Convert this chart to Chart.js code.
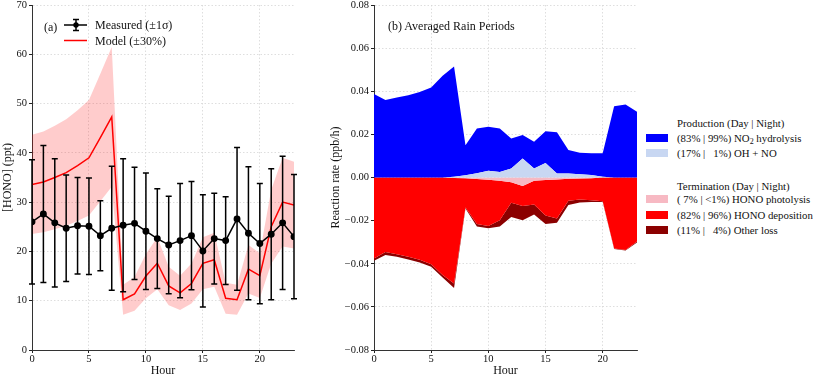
<!DOCTYPE html>
<html>
<head>
<meta charset="utf-8" />
<title>HONO measured vs model, rain periods budget</title>
<script src="https://cdn.jsdelivr.net/npm/chart.js"></script>
<style>
  body { margin: 0; background: #fff; }
  #wrap { position: relative; width: 813px; height: 377px; font-family: "Liberation Serif", "Times New Roman", serif; color: #111; }
  canvas { position: absolute; top: 0; }
  .t { position: absolute; white-space: pre; line-height: 14px; }
  .patch { position: absolute; width: 22px; height: 8px; }
  sub { font-size: 8px; vertical-align: -2px; line-height: 0; }
</style>
</head>
<body>
<div id="wrap">
  <canvas id="left" width="300" height="377" style="left:0"></canvas>
  <canvas id="right" width="325" height="377" style="left:320px"></canvas>

  <!-- legend (a) -->
  <div class="t" style="left:44px;top:20px;font-size:12px">(a)</div>
  <svg style="position:absolute;left:64px;top:17px" width="25" height="28">
    <line x1="0" y1="8" x2="23" y2="8" stroke="#000" stroke-width="1.5"/>
    <line x1="12" y1="2.5" x2="12" y2="13.5" stroke="#000" stroke-width="1.5"/>
    <line x1="9" y1="2.5" x2="15" y2="2.5" stroke="#000" stroke-width="1.5"/>
    <line x1="9" y1="13.5" x2="15" y2="13.5" stroke="#000" stroke-width="1.5"/>
    <circle cx="12" cy="8" r="2.7" fill="#000"/>
    <line x1="0" y1="23.5" x2="23" y2="23.5" stroke="#ff0000" stroke-width="1.5"/>
  </svg>
  <div class="t" style="left:95px;top:18px;font-size:12px">Measured (±1σ)</div>
  <div class="t" style="left:95px;top:34px;font-size:12px">Model (±30%)</div>

  <!-- panel (b) -->
  <div class="t" style="left:388px;top:19px;font-size:12px">(b) Averaged Rain Periods</div>

  <div class="t" style="left:677px;top:116px;font-size:10.8px">Production (Day | Night)</div>
  <div class="patch" style="left:646px;top:134px;background:#0000ff"></div>
  <div class="t" style="left:677px;top:131px;font-size:10.8px">(83% | 99%) NO<sub>2</sub> hydrolysis</div>
  <div class="patch" style="left:646px;top:149px;background:#c8d7f2"></div>
  <div class="t" style="left:677px;top:146px;font-size:10.8px">(17% |   1%) OH + NO</div>

  <div class="t" style="left:677px;top:179px;font-size:10.8px">Termination (Day | Night)</div>
  <div class="patch" style="left:646px;top:195px;background:#f7b9c3"></div>
  <div class="t" style="left:677px;top:192px;font-size:10.8px">( 7% | &lt;1%) HONO photolysis</div>
  <div class="patch" style="left:646px;top:211px;background:#ff0000"></div>
  <div class="t" style="left:677px;top:208px;font-size:10.8px">(82% | 96%) HONO deposition</div>
  <div class="patch" style="left:646px;top:226px;background:#8b0000"></div>
  <div class="t" style="left:677px;top:223px;font-size:10.8px">(11% |   4%) Other loss</div>
</div>

<script>
// hour of day
const hours = [0, 1, 2, 3, 4, 5, 6, 7, 8, 9, 10, 11, 12, 13, 14, 15, 16, 17, 18, 19, 20, 21, 22, 23];

// (a) HONO, ppt
const measured = [26.0, 27.6, 25.8, 24.7, 25.2, 25.1, 23.2, 24.7, 25.3, 25.7, 24.1, 22.6,
                  21.3, 22.2, 23.2, 20.1, 22.6, 22.2, 26.6, 23.7, 21.6, 23.5, 25.8, 23.0];
const sigma = [12.6, 13.9, 13.0, 10.8, 9.8, 9.8, 7.1, 12.6, 13.5, 11.4, 11.8, 10.1,
               9.9, 11.6, 11.0, 11.4, 9.2, 8.9, 14.5, 13.5, 12.2, 13.3, 13.5, 12.6];
const model = [33.6, 34.1, 35.0, 36.0, 37.4, 39.0, 43.1, 47.3, 10.2, 11.4, 15.0, 17.6,
               13.0, 11.6, 13.5, 17.6, 18.3, 10.5, 10.2, 16.4, 15.1, 25.0, 30.0, 29.4];
const modelUnc = 0.30;

// (b) reaction rates, ppb/h
const ohNo = [0, 0, 0, 0, 0, 0, 0, 0.0003, 0.0011, 0.0020, 0.0031, 0.0026,
              0.0042, 0.0088, 0.0042, 0.0067, 0.0019, 0.0019, 0.0015, 0.0012, 0.0003, 0, 0, 0];
const no2Hydrolysis = [0.0387, 0.0360, 0.0371, 0.0382, 0.0397, 0.0417, 0.0472, 0.0512, 0.0139, 0.0207, 0.0204, 0.0201,
                       0.0139, 0.0109, 0.0124, 0.0148, 0.0191, 0.0108, 0.0100, 0.0100, 0.0109, 0.0331, 0.0339, 0.0305];
const photolysis = [0, 0, 0, 0, 0, 0, 0, -0.0002, -0.0004, -0.0007, -0.0010, -0.0015,
                    -0.0022, -0.0039, -0.0015, -0.0012, -0.0009, -0.0006, -0.0005, -0.0003, 0, 0, 0, 0];
const deposition = [-0.0376, -0.0346, -0.0356, -0.0368, -0.0382, -0.0402, -0.0452, -0.0490, -0.0135, -0.0209, -0.0215, -0.0183,
                    -0.0095, -0.0093, -0.0110, -0.0164, -0.0181, -0.0102, -0.0097, -0.0103, -0.0110, -0.0329, -0.0336, -0.0297];
const otherLoss = [-0.0010, -0.0013, -0.0012, -0.0012, -0.0012, -0.0012, -0.0012, -0.0021, -0.0005, -0.0011, -0.0010, -0.0029,
                   -0.0066, -0.0066, -0.0047, -0.0040, -0.0020, -0.0019, -0.0014, -0.0008, -0.0004, -0.0003, -0.0003, -0.0004];

const leftTicks = { min: 0, max: 70, step: 10 };
const rightTicks = { min: -0.08, max: 0.08, step: 0.02 };

Chart.defaults.font.family = '"Liberation Serif", "Times New Roman", serif';
Chart.defaults.color = '#111';

const xy = arr => arr.map((v, i) => ({ x: hours[i], y: v }));

function xAxis() {
  return {
    type: 'linear', min: 0, max: 23,
    ticks: { stepSize: 5, includeBounds: false, padding: 0, font: { size: 10.5 }, maxRotation: 0 },
    grid: { color: '#d6d6d6', lineWidth: 0.8, tickLength: 3, tickColor: '#222', tickWidth: 1 },
    border: { color: '#333', width: 1, dash: [1.5, 2] },
    title: { display: true, text: 'Hour', font: { size: 12, lineHeight: 1 }, padding: 0 },
    afterFit: s => { s.height = 27; }
  };
}

function yAxis(t, w, title, titlePad, fmt) {
  return {
    min: t.min, max: t.max,
    ticks: { stepSize: t.step, padding: 2, font: { size: 10.5 }, callback: fmt },
    grid: { color: '#d6d6d6', lineWidth: 0.8, tickLength: 3, tickColor: '#222', tickWidth: 1 },
    border: { color: '#333', width: 1, dash: [1.5, 2] },
    title: { display: true, text: title, font: { size: 12, lineHeight: 1 }, padding: { top: titlePad, bottom: 0 } },
    afterFit: s => { s.width = w; s.paddingTop = 0; s.paddingBottom = 0; }
  };
}

// error bars for the measured series
const errorBars = {
  id: 'errorBars',
  afterDatasetsDraw(chart) {
    const ctx = chart.ctx, xs = chart.scales.x, ys = chart.scales.y;
    ctx.save();
    ctx.strokeStyle = '#000';
    ctx.lineWidth = 1.5;
    measured.forEach((m, i) => {
      const x = xs.getPixelForValue(hours[i]);
      const y1 = ys.getPixelForValue(m + sigma[i]);
      const y2 = ys.getPixelForValue(m - sigma[i]);
      ctx.beginPath();
      ctx.moveTo(x, y1); ctx.lineTo(x, y2);
      ctx.moveTo(x - 3, y1); ctx.lineTo(x + 3, y1);
      ctx.moveTo(x - 3, y2); ctx.lineTo(x + 3, y2);
      ctx.stroke();
    });
    ctx.restore();
  }
};

new Chart(document.getElementById('left'), {
  type: 'line',
  data: {
    datasets: [
      { data: xy(measured), borderColor: '#000', backgroundColor: '#000', borderWidth: 1.5,
        pointRadius: 2.7, pointHoverRadius: 2.7, tension: 0, fill: false },
      { data: xy(model), borderColor: '#ff0000', borderWidth: 1.5, pointRadius: 0, tension: 0, fill: false },
      { data: xy(model.map(v => v * (1 + modelUnc))), borderWidth: 0, pointRadius: 0, tension: 0,
        fill: '+1', backgroundColor: 'rgba(255,0,0,0.2)' },
      { data: xy(model.map(v => v * (1 - modelUnc))), borderWidth: 0, pointRadius: 0, tension: 0, fill: false }
    ]
  },
  options: {
    responsive: false, animation: false,
    layout: { padding: { top: 5, right: 6, left: 0, bottom: 0 } },
    plugins: { legend: { display: false }, tooltip: { enabled: false } },
    scales: {
      x: xAxis(),
      y: yAxis(leftTicks, 32, '[HONO] (ppt)', 2, v => v)
    }
  },
  plugins: [errorBars]
});

const fmtRate = v => (v < -1e-9 ? '\u2212' : '') + Math.abs(v).toFixed(2);

function area(values, color, stack, fill) {
  return { data: xy(values), backgroundColor: color, borderColor: color, borderWidth: 0,
           pointRadius: 0, tension: 0, stack: stack, fill: fill };
}

new Chart(document.getElementById('right'), {
  type: 'line',
  data: {
    datasets: [
      area(ohNo, '#c8d7f2', 'prod', 'origin'),
      area(no2Hydrolysis, '#0000ff', 'prod', '-1'),
      area(photolysis, '#f7b9c3', 'loss', 'origin'),
      area(deposition, '#ff0000', 'loss', '-1'),
      area(otherLoss, '#8b0000', 'loss', '-1')
    ]
  },
  options: {
    responsive: false, animation: false,
    layout: { padding: { top: 5, right: 8, left: 0, bottom: 0 } },
    plugins: { legend: { display: false }, tooltip: { enabled: false } },
    scales: {
      x: xAxis(),
      y: Object.assign(yAxis(rightTicks, 54, 'Reaction rate (ppb/h)', 10, fmtRate), { stacked: true })
    }
  }
});
</script>
</body>
</html>
